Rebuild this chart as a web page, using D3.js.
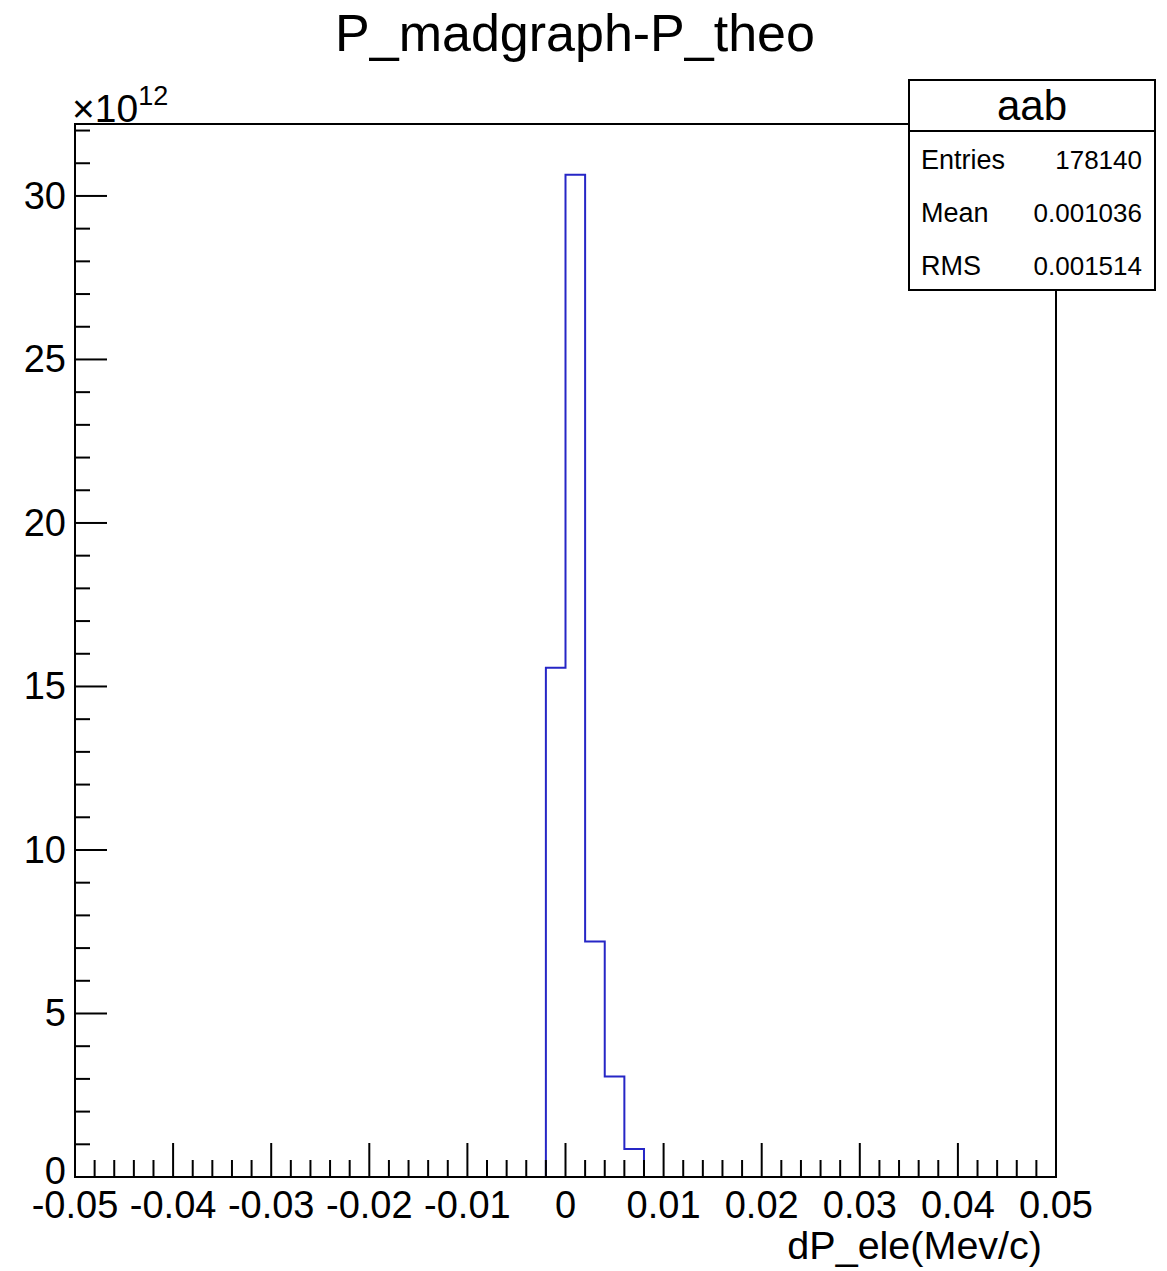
<!DOCTYPE html>
<html><head><meta charset="utf-8">
<script src="https://cdn.jsdelivr.net/npm/d3@7"></script>
<style>body{margin:0;background:#fff}svg{display:block}text{font-family:"Liberation Sans",Arial,sans-serif;fill:#000}</style>
</head><body>
<script>
// Data (counts in units of 1e12)
const binEdgesLow = [-0.002, 0.0, 0.002, 0.004, 0.006];
const binWidth = 0.002;
const binValues = [15.57, 30.65, 7.2, 3.07, 0.86];
const xTickValues = [-0.05,-0.04,-0.03,-0.02,-0.01,0,0.01,0.02,0.03,0.04,0.05];
const xTickLabels = ["-0.05","-0.04","-0.03","-0.02","-0.01","0","0.01","0.02","0.03","0.04","0.05"];
const yTickValues = [0,5,10,15,20,25,30];
const statsLabels = ["Entries","Mean","RMS"];
const statsValues = ["178140","0.001036","0.001514"];

const W=1167,H=1271;
const L=75,R=1056,T=124,B=1177;
const svg=d3.select("body").append("svg").attr("width",W).attr("height",H);
const x=d3.scaleLinear().domain([-0.05,0.05]).range([L,R]);
const y=d3.scaleLinear().domain([0,32.2]).range([B,T]);

// title
svg.append("text").attr("x",575).attr("y",51).attr("text-anchor","middle").attr("font-size",52).text("P_madgraph-P_theo");

// histogram path
const pts=[];
pts.push([x(binEdgesLow[0]),y(0)]);
binValues.forEach((v,i)=>{pts.push([x(binEdgesLow[i]),y(v)]);pts.push([x(binEdgesLow[i]+binWidth),y(v)]);});
pts.push([x(binEdgesLow[binEdgesLow.length-1]+binWidth),y(0)]);
svg.append("path").attr("d",d3.line()(pts)).attr("fill","none").attr("stroke","#2626c6").attr("stroke-width",2);

// frame
svg.append("rect").attr("x",L).attr("y",T).attr("width",R-L).attr("height",B-T).attr("fill","none").attr("stroke","#000").attr("stroke-width",2);

// x ticks
const xMinor=d3.range(-0.05,0.0501,0.002);
const g=svg.append("g").attr("stroke","#000").attr("stroke-width",2);
xMinor.forEach(v=>{
  const major=Math.abs(Math.round(v*1000)%10)===0;
  g.append("line").attr("x1",x(v)).attr("x2",x(v)).attr("y1",B).attr("y2",B-(major?34:17));
});
// y ticks
d3.range(0,32.01,1).forEach(v=>{
  const major=v%5===0;
  g.append("line").attr("x1",L).attr("x2",L+(major?32:15)).attr("y1",y(v)).attr("y2",y(v));
});
// x labels
xTickValues.forEach((v,i)=>{
  svg.append("text").attr("x",x(v)).attr("y",1218).attr("text-anchor","middle").attr("font-size",38).text(xTickLabels[i]);
});
// y labels
yTickValues.forEach(v=>{
  svg.append("text").attr("x",66).attr("y",y(v)+(v===0?7:13)).attr("text-anchor","end").attr("font-size",38).text(v);
});
// exponent
const ex=svg.append("text").attr("x",72).attr("y",122).attr("font-size",39);
ex.append("tspan").text("×10");
ex.append("tspan").attr("font-size",27).attr("dy",-17).text("12");

// x axis title
svg.append("text").attr("x",1042).attr("y",1259).attr("text-anchor","end").attr("font-size",39.5).text("dP_ele(Mev/c)");

// stats box
const sx=909,sy=80,sw=246,sh=210;
svg.append("rect").attr("x",sx).attr("y",sy).attr("width",sw).attr("height",sh).attr("fill","#fff").attr("stroke","#000").attr("stroke-width",2);
svg.append("line").attr("x1",sx).attr("x2",sx+sw).attr("y1",131).attr("y2",131).attr("stroke","#000").attr("stroke-width",2);
svg.append("text").attr("x",sx+sw/2).attr("y",120).attr("text-anchor","middle").attr("font-size",42).text("aab");
statsLabels.forEach((s,i)=>{
  const yy=169+i*53;
  svg.append("text").attr("x",921).attr("y",yy).attr("font-size",27).text(s);
  svg.append("text").attr("x",1142).attr("y",yy).attr("text-anchor","end").attr("font-size",26).text(statsValues[i]);
});
</script>
</body></html>
